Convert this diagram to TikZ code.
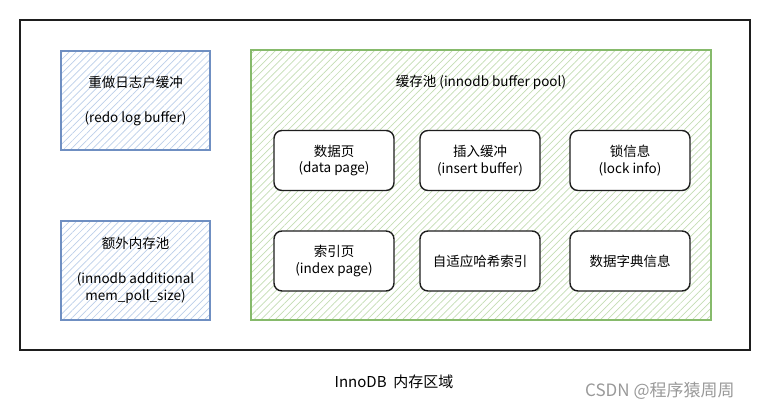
\documentclass[tikz,border=0pt]{standalone}
\usepackage{fontspec}
\setmainfont{Noto Sans CJK SC}
\usetikzlibrary{patterns.meta}
\definecolor{bufblue}{HTML}{6F8FC2}
\definecolor{hatchblue}{HTML}{BCCFEA}
\definecolor{poolgreen}{HTML}{86BA6B}
\definecolor{hatchgreen}{HTML}{C4DDB4}
\definecolor{inkblack}{HTML}{1E1E1E}
\tikzset{
  membox/.style={draw=bufblue, line width=1.1pt, preaction={fill=white},
    pattern={Lines[angle=45,distance=5pt,line width=0.7pt]}, pattern color=hatchblue,
    minimum width=149pt, minimum height=99pt, align=center, font=\fontsize{13.5}{17}\selectfont},
  poolbox/.style={draw=poolgreen, line width=1.1pt, preaction={fill=white},
    pattern={Lines[angle=45,distance=5pt,line width=0.7pt]}, pattern color=hatchgreen,
    minimum width=460pt, minimum height=270pt},
  pagebox/.style={draw=inkblack, line width=1.4pt, fill=white, rounded corners=8pt,
    minimum width=120pt, minimum height=60pt, align=center, font=\fontsize{13.5}{16.5}\selectfont},
  txt/.style={font=\fontsize{13.5}{17}\selectfont}
}

\begin{document}
\begin{tikzpicture}[x=1pt,y=-1pt]
  \useasboundingbox (0,0) rectangle (771,411);
  % outer area
  \node[draw=inkblack, line width=1.4pt, minimum width=730pt, minimum height=330pt] (innodb) at (385,185) {};
  % left column
  \node[membox] (redo) at (135.5,100.5) {重做日志户缓冲\\[18pt](redo log buffer)};
  \node[membox] (addl) at (135.5,270.5) {额外内存池\\[18pt](innodb additional\\mem\_poll\_size)};
  % buffer pool
  \node[poolbox] (pool) at (481,185) {};
  \node[txt] (pooltitle) at (481,82) {缓存池 (innodb buffer pool)};
  \node[pagebox] (datapage) at (334,160.5) {数据页\\(data page)};
  \node[pagebox] (insbuf) at (480,160.5) {插入缓冲\\(insert buffer)};
  \node[pagebox] (lockinfo) at (630,160.5) {锁信息\\(lock info)};
  \node[pagebox] (idxpage) at (334,261) {索引页\\(index page)};
  \node[pagebox] (ahi) at (480,261) {自适应哈希索引};
  \node[pagebox] (dict) at (630,261) {数据字典信息};
  % caption
  \node[font=\fontsize{15}{18}\selectfont] (caption) at (394,382) {InnoDB\ \ 内存区域};
  \node[anchor=west, text=black!40, font=\fontsize{17}{20}\selectfont, inner sep=0pt] (mark) at (585,391) {CSDN @程序猿周周};
\end{tikzpicture}
\end{document}
